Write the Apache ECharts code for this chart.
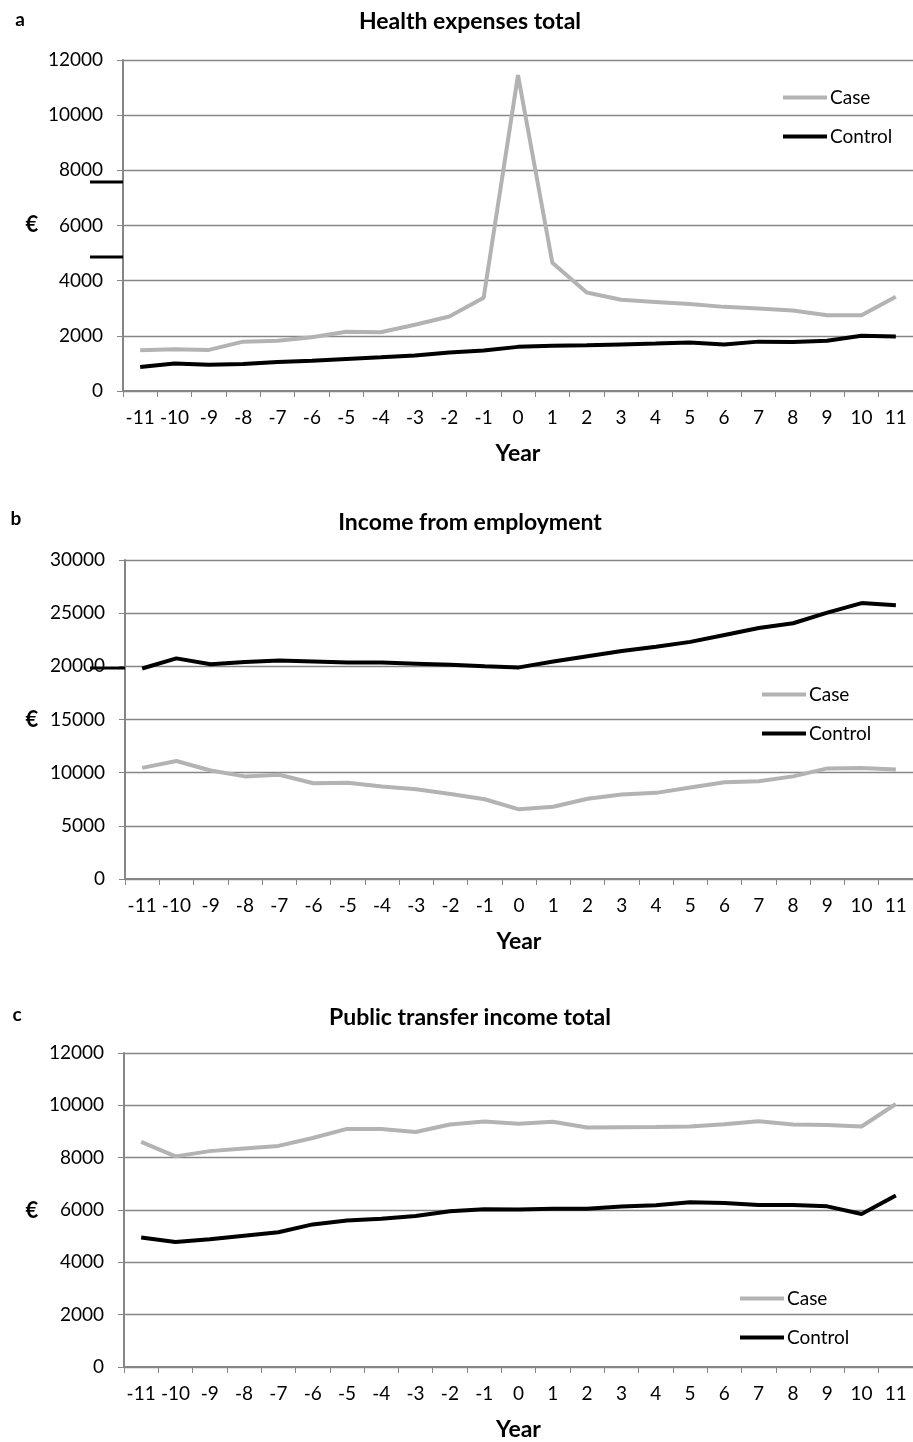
<!DOCTYPE html>
<html>
<head>
<meta charset="utf-8">
<script src="https://cdn.jsdelivr.net/npm/echarts@6/dist/echarts.min.js"></script>
<style>
  html, body { margin: 0; padding: 0; background: #fff; }
  #chart { width: 913px; height: 1442px; }
</style>
</head>
<body>
<div id="chart"></div>
<script>
// Years relative to the index event
const years = ['-11','-10','-9','-8','-7','-6','-5','-4','-3','-2','-1','0','1','2','3','4','5','6','7','8','9','10','11'];

// a: Health expenses total (€)
const healthCase    = [1480,1510,1490,1790,1820,1950,2150,2130,2400,2700,3380,11450,4650,3570,3310,3230,3150,3050,2990,2920,2750,2750,3420];
const healthControl = [870,1000,950,980,1050,1100,1160,1220,1290,1400,1470,1600,1640,1660,1690,1720,1760,1690,1790,1780,1820,2000,1980];

// b: Income from employment (€)
const employmentCase    = [10450,11100,10200,9650,9800,9000,9050,8700,8450,8000,7500,6550,6800,7550,7950,8100,8600,9100,9200,9650,10400,10450,10300];
const employmentControl = [19800,20750,20200,20400,20550,20450,20350,20350,20250,20150,20000,19900,20450,20950,21450,21850,22300,22950,23600,24050,25050,25950,25750];

// c: Public transfer income total (€)
const transferCase    = [8600,8050,8250,8350,8450,8750,9100,9100,8980,9270,9380,9300,9370,9150,9160,9170,9190,9280,9390,9270,9250,9190,10050];
const transferControl = [4950,4780,4880,5020,5150,5450,5600,5670,5770,5950,6030,6020,6050,6050,6130,6180,6300,6270,6190,6190,6140,5850,6550];

const panelTitles = ['Health expenses total', 'Income from employment', 'Public transfer income total'];
const panelLetters = ['a', 'b', 'c'];
const axisMax = [12000, 30000, 12000];
const axisStep = [2000, 5000, 2000];
const seriesNames = ['Case', 'Control'];

const FONT = 'Lato, "Open Sans", sans-serif';
const GRAY = '#b3b3b3';
const AXIS = '#868686';

const panels = [
  { grid: { left: 123, top: 60, width: 794, height: 331 }, data: [healthCase, healthControl],
    legend: { left: 783, top: 86 }, titleY: 22, letter: [20, 20], euroY: 225 },
  { grid: { left: 125, top: 560, width: 791, height: 319 }, data: [employmentCase, employmentControl],
    legend: { left: 762, top: 683 }, titleY: 523, letter: [16, 519], euroY: 720 },
  { grid: { left: 124, top: 1053, width: 798, height: 317 }, data: [transferCase, transferControl],
    legend: { left: 740, top: 1287 }, titleY: 1018, letter: [17, 1015], euroY: 1211 }
];

const grid = [], xAxis = [], yAxis = [], series = [], legend = [], graphic = [];

panels.forEach((p, i) => {
  grid.push(Object.assign({ containLabel: false }, p.grid));
  xAxis.push({
    type: 'category', gridIndex: i, data: years, boundaryGap: true,
    name: 'Year', nameLocation: 'middle', nameGap: 51,
    nameTextStyle: { fontFamily: FONT, fontWeight: 'bold', fontSize: 23, color: '#000' },
    axisLine: { show: true, lineStyle: { color: AXIS, width: 2 } },
    axisTick: { show: true, length: 6, lineStyle: { color: AXIS, width: 1 } },
    axisLabel: { interval: 0, fontFamily: FONT, fontSize: 19, color: '#000', margin: 17 },
    splitLine: { show: false }
  });
  yAxis.push({
    type: 'value', gridIndex: i, min: 0, max: axisMax[i], interval: axisStep[i],
    axisLine: { show: true, lineStyle: { color: AXIS, width: 2 } },
    axisTick: { show: true, length: 6, lineStyle: { color: AXIS, width: 1 } },
    axisLabel: { fontFamily: FONT, fontSize: 19, color: '#000', margin: 20, formatter: v => String(v) },
    splitLine: { show: true, lineStyle: { color: AXIS, width: 1.3 } }
  });
  seriesNames.forEach((name, k) => {
    series.push({
      type: 'line', name: name, xAxisIndex: i, yAxisIndex: i,
      data: p.data[k], symbol: 'none', smooth: false, z: 3 + k,
      lineStyle: { width: 4, color: k === 0 ? GRAY : '#000' },
      itemStyle: { color: k === 0 ? GRAY : '#000' }
    });
  });
  legend.push({
    orient: 'vertical', left: p.legend.left, top: p.legend.top + 2, padding: 0,
    icon: 'rect', itemWidth: 44, itemHeight: 4, itemGap: 20,
    textStyle: { fontFamily: FONT, fontSize: 19, color: '#000', padding: [0, 0, 0, -2] },
    data: seriesNames
  });
  graphic.push({
    type: 'text', x: 470, y: p.titleY,
    style: { text: panelTitles[i], font: 'bold 23px ' + FONT, fill: '#000', align: 'center', verticalAlign: 'middle' }
  });
  graphic.push({
    type: 'text', x: p.letter[0], y: p.letter[1],
    style: { text: panelLetters[i], font: 'bold 19px ' + FONT, fill: '#000', align: 'center', verticalAlign: 'middle' }
  });
  graphic.push({
    type: 'text', x: 32, y: p.euroY,
    style: { text: '€', font: 'bold 22px ' + FONT, fill: '#000', align: 'center', verticalAlign: 'middle' }
  });
});

// Short black strokes beside the value axes
[[90, 182, 123], [90, 257, 123], [90, 668, 125]].forEach(s => {
  graphic.push({ type: 'line', shape: { x1: s[0], y1: s[1], x2: s[2], y2: s[1] },
    style: { stroke: '#000', lineWidth: 3 }, z: 10 });
});

const chart = echarts.init(document.getElementById('chart'), null, { renderer: 'canvas' });
chart.setOption({
  animation: false,
  backgroundColor: '#fff',
  grid, xAxis, yAxis, series, legend, graphic
});
</script>
</body>
</html>
